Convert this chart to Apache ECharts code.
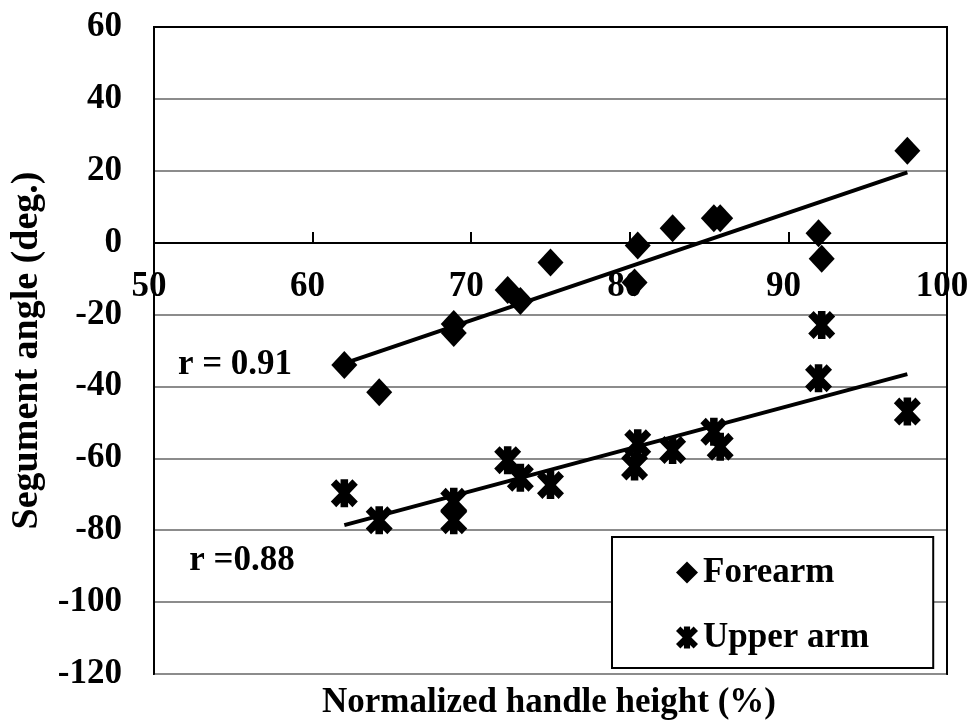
<!DOCTYPE html>
<html>
<head>
<meta charset="utf-8">
<title>Segment angle vs handle height</title>
<script src="https://cdn.jsdelivr.net/npm/echarts@6/dist/echarts.min.js"></script>
<style>
  html, body { margin: 0; padding: 0; background: #fff; }
  #main { width: 976px; height: 728px; }
</style>
</head>
<body>
<div id="main"></div>
<script>
// values
var heights = [62.0, 64.2, 68.9, 68.9, 72.3, 73.1, 75.0, 80.3, 80.5, 82.7, 85.3, 85.7, 91.9, 92.1, 97.5];
var forearm = [-34.0, -41.6, -22.6, -25.1, -13.2, -16.2, -5.5, -11.1, -0.8, 4.0, 6.8, 6.8, 2.6, -4.5, 25.6];
var upperArm = [-69.7, -77.2, -72.1, -77.2, -60.5, -65.4, -67.4, -62.3, -55.8, -57.7, -52.6, -56.8, -37.7, -22.9, -47.0];
var seriesNames = ['Forearm', 'Upper arm'];
var rLabels = ['r = 0.91', 'r =0.88'];

var FONT = 'Liberation Serif';
// excel style "X" marker: thick cross with a vertical bar, drawn as one outline
var crossPath = 'path://M36,0L64,0L64,16L80,0L100,20L70,50L100,80L80,100L64,84L64,100L36,100L36,84L20,100L0,80L30,50L0,20L20,0L36,16Z';

function pairs(xs, ys) {
    return xs.map(function (x, i) { return [x, ys[i]]; });
}

// least squares trend line, from the smallest to the largest x
function trend(xs, ys) {
    var n = xs.length, mx = 0, my = 0, sxy = 0, sxx = 0;
    xs.forEach(function (x, i) { mx += x; my += ys[i]; });
    mx /= n; my /= n;
    xs.forEach(function (x, i) {
        sxy += (x - mx) * (ys[i] - my);
        sxx += (x - mx) * (x - mx);
    });
    var b = sxy / sxx, a = my - b * mx;
    var x0 = Math.min.apply(null, xs), x1 = Math.max.apply(null, xs);
    return [[x0, a + b * x0], [x1, a + b * x1]];
}

var chart = echarts.init(document.getElementById('main'));

var gridTop = 27, gridBottom = 54;
var yMin = -120, yMax = 60;
var plotH = 728 - gridTop - gridBottom;
// the x axis sits on y = 0, so lift it from the bottom edge
var zeroOffset = plotH * (0 - yMin) / (yMax - yMin);

var textBase = {
    fontFamily: FONT,
    fontWeight: 'bold',
    fontSize: 35,
    color: '#000'
};

// plain black frame lines for the top and right edges
var frameAxis = {
    axisLine: { show: true, onZero: false, lineStyle: { color: '#000', width: 2 } },
    axisTick: { show: false },
    axisLabel: { show: false },
    splitLine: { show: false }
};

chart.setOption({
    animation: false,
    backgroundColor: '#fff',
    grid: {
        left: 152,
        right: 29,
        top: gridTop,
        bottom: gridBottom,
        show: true,
        borderColor: '#000',
        borderWidth: 2
    },
    legend: {
        data: seriesNames,
        orient: 'vertical',
        left: 612,
        top: 537,
        padding: [18, 64, 13, 64],
        itemGap: 30,
        itemWidth: 22,
        itemHeight: 22,
        backgroundColor: '#fff',
        borderColor: '#000',
        borderWidth: 2,
        textStyle: {
            fontFamily: FONT,
            fontWeight: 'bold',
            fontSize: 35,
            lineHeight: 35,
            color: '#000'
        }
    },
    xAxis: [
        {
            type: 'value',
            min: 50,
            max: 100,
            interval: 10,
            position: 'bottom',
            offset: -Math.round(zeroOffset),
            axisLine: { onZero: false, lineStyle: { color: '#000', width: 2 } },
            axisTick: { inside: true, length: 11, lineStyle: { color: '#000', width: 2 } },
            splitLine: { show: false },
            axisLabel: Object.assign({ margin: 26, padding: [0, 10, 0, 0] }, textBase)
        },
        Object.assign({ type: 'value', min: 50, max: 100, position: 'top' }, frameAxis)
    ],
    yAxis: [
        {
            type: 'value',
            min: yMin,
            max: yMax,
            interval: 20,
            name: 'Segument angle (deg.)',
            nameLocation: 'middle',
            nameGap: 108,
            nameTextStyle: {
                fontFamily: FONT,
                fontWeight: 'bold',
                fontSize: 38,
                color: '#000'
            },
            axisLine: { show: true, lineStyle: { color: '#000', width: 2 } },
            axisTick: { show: false },
            splitLine: { lineStyle: { color: '#8c8c8c', width: 2 } },
            axisLabel: Object.assign({ margin: 32 }, textBase)
        },
        Object.assign({ type: 'value', min: yMin, max: yMax, position: 'right' }, frameAxis)
    ],
    graphic: [
        {
            type: 'text',
            x: 549,
            y: 703,
            style: { text: 'Normalized handle height (%)', align: 'center', verticalAlign: 'middle',
                font: 'bold 35px "Liberation Serif"', fill: '#000' }
        },
        {
            type: 'text',
            x: 235,
            y: 365,
            style: { text: rLabels[0], align: 'center', verticalAlign: 'middle',
                font: 'bold 35px "Liberation Serif"', fill: '#000' }
        },
        {
            type: 'text',
            x: 242,
            y: 561,
            style: { text: rLabels[1], align: 'center', verticalAlign: 'middle',
                font: 'bold 35px "Liberation Serif"', fill: '#000' }
        }
    ],
    series: [
        {
            name: seriesNames[0],
            type: 'scatter',
            symbol: 'diamond',
            symbolSize: [26, 28],
            itemStyle: { color: '#000', opacity: 1 },
            data: pairs(heights, forearm),
            z: 3
        },
        {
            name: seriesNames[1],
            type: 'scatter',
            symbol: crossPath,
            symbolSize: [27, 28],
            itemStyle: { color: '#000', opacity: 1 },
            data: pairs(heights, upperArm),
            z: 3
        },
        {
            name: 'Forearm trend',
            type: 'line',
            showSymbol: false,
            lineStyle: { color: '#000', width: 4 },
            data: trend(heights, forearm),
            z: 4
        },
        {
            name: 'Upper arm trend',
            type: 'line',
            showSymbol: false,
            lineStyle: { color: '#000', width: 4 },
            data: trend(heights, upperArm),
            z: 4
        }
    ]
});
</script>
</body>
</html>
